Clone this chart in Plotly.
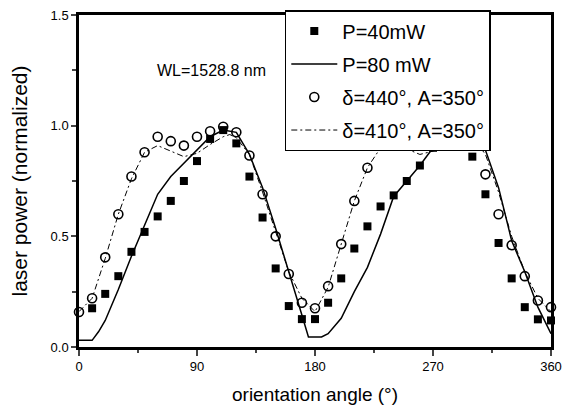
import plotly.graph_objects as go

# ---- data ----
sq_x = [10, 20, 30, 40, 50, 60, 70, 80, 90, 100, 110, 120, 130, 140, 150, 160, 170, 180,
        190, 200, 210, 220, 230, 240, 250, 260, 270, 280, 290, 300, 310, 320, 330, 340, 350, 360]
sq_y = [0.175, 0.24, 0.32, 0.43, 0.52, 0.59, 0.66, 0.75, 0.84, 0.94, 0.98, 0.92, 0.77, 0.585,
        0.355, 0.185, 0.126, 0.126, 0.20, 0.31, 0.445, 0.545, 0.635, 0.685, 0.75, 0.82, 0.90,
        0.95, 0.97, 0.86, 0.69, 0.47, 0.31, 0.18, 0.125, 0.12]

line80_x = [0, 10, 15, 20, 30, 40, 50, 60, 70, 80, 90, 100, 110, 120, 130, 140, 150, 160, 170,
            175, 185, 190, 200, 210, 220, 230, 240, 250, 260, 270, 280, 290, 300, 310, 320, 330,
            340, 350, 360]
line80_y = [0.03, 0.03, 0.07, 0.12, 0.26, 0.41, 0.55, 0.69, 0.77, 0.83, 0.89, 0.95, 0.98, 0.97,
            0.87, 0.72, 0.535, 0.345, 0.145, 0.045, 0.045, 0.06, 0.13, 0.25, 0.36, 0.51, 0.68,
            0.75, 0.82, 0.90, 0.96, 0.99, 0.97, 0.89, 0.72, 0.48, 0.34, 0.18, 0.06]

circ_x = list(range(0, 361, 10))
circ_y = [0.158, 0.22, 0.405, 0.60, 0.77, 0.88, 0.95, 0.93, 0.91, 0.95, 0.975, 0.995, 0.97,
          0.865, 0.69, 0.50, 0.33, 0.20, 0.175, 0.275, 0.465, 0.66, 0.81, 0.93, 0.97, 0.95,
          0.93, 0.95, 0.98, 1.0, 0.96, 0.78, 0.60, 0.46, 0.32, 0.21, 0.18]

dd_x = [0, 10, 20, 30, 40, 50, 60, 70, 80, 90, 100, 110, 115, 120, 130, 140, 150, 160, 170, 180,
        190, 200, 210, 220, 230, 240, 250, 260, 270, 280, 290, 295, 300, 310, 320, 330, 340, 350, 360]
dd_y = [0.16, 0.22, 0.40, 0.60, 0.76, 0.88, 0.91, 0.885, 0.86, 0.875, 0.915, 0.95, 0.96, 0.945,
        0.87, 0.70, 0.52, 0.34, 0.22, 0.16, 0.27, 0.465, 0.66, 0.81, 0.90, 0.92, 0.895, 0.87,
        0.885, 0.92, 0.955, 0.965, 0.95, 0.87, 0.70, 0.50, 0.34, 0.22, 0.16]

x_ticks = [0, 90, 180, 270, 360]
y_ticks = [0.0, 0.5, 1.0, 1.5]
y_ticktext = ["0.0", "0.5", "1.0", "1.5"]

names = ["P=40mW", "P=80 mW", "δ=440°, A=350°", "δ=410°, A=350°"]
wl_text = "WL=1528.8 nm"

FONT = "Liberation Sans, Arial, sans-serif"

fig = go.Figure()
fig.add_trace(go.Scatter(x=sq_x, y=sq_y, mode="markers", name=names[0], legendgroup="a",
                         marker=dict(symbol="square", size=8, color="black"), cliponaxis=False))
fig.add_trace(go.Scatter(x=line80_x, y=line80_y, mode="lines", name=names[1], legendgroup="b",
                         line=dict(color="black", width=1.5), cliponaxis=False))
fig.add_trace(go.Scatter(x=circ_x, y=circ_y, mode="markers", name=names[2], legendgroup="c",
                         marker=dict(symbol="circle-open", size=9, color="black",
                                     line=dict(width=1.6, color="black")), cliponaxis=False))
fig.add_trace(go.Scatter(x=dd_x, y=dd_y, mode="lines", name=names[3], legendgroup="d",
                         line=dict(color="black", width=1, dash="6px,3px,2px,3px"),
                         cliponaxis=False))

fig.add_annotation(x=58, y=1.248, xref="x", yref="y", text=wl_text, showarrow=False,
                   xanchor="left", yanchor="middle", font=dict(size=16, color="black", family=FONT))

fig.update_layout(
    width=564, height=406,
    margin=dict(l=79, r=13, t=15, b=59, autoexpand=False),
    paper_bgcolor="white", plot_bgcolor="white",
    font=dict(family=FONT, color="black"),
    showlegend=True,
    legend=dict(x=0.436, y=1.015, xanchor="left", yanchor="top", bgcolor="white",
                bordercolor="black", borderwidth=1.5, font=dict(size=20, family=FONT),
                itemwidth=46, tracegroupgap=4),
    xaxis=dict(range=[0, 360], tickvals=x_ticks, ticks="outside", ticklen=6, tickwidth=2,
               showline=True, linewidth=2.5, linecolor="black", mirror=True, automargin=False,
               showgrid=False, zeroline=False, tickfont=dict(size=13),
               minor=dict(dtick=45, ticks="outside", ticklen=3, tickwidth=2, showgrid=False),
               title=dict(text="orientation angle (°)", font=dict(size=19), standoff=15)),
    yaxis=dict(range=[0, 1.5], tickvals=y_ticks, ticktext=y_ticktext, ticks="outside",
               ticklen=5, tickwidth=2, showline=True, linewidth=2.5, linecolor="black",
               mirror=True, showgrid=False, zeroline=False, tickfont=dict(size=13), automargin=False,
               minor=dict(dtick=0.25, ticks="outside", ticklen=4, tickwidth=2, showgrid=False),
               title=dict(text="laser power (normalized)", font=dict(size=21), standoff=18)),
)

fig.write_html("out.html", config={"displayModeBar": False},
               post_script="document.body.style.margin='0';")
